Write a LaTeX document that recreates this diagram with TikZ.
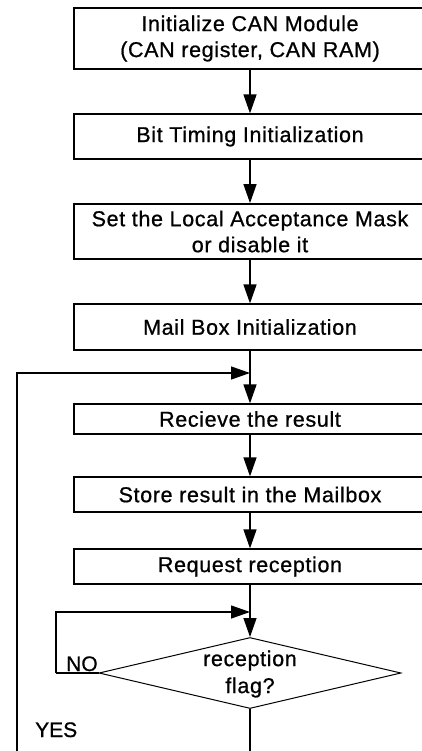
\documentclass[tikz,border=0pt]{standalone}
\usepackage{fontspec}
\setmainfont{Liberation Sans}
\newfontfamily\boxfont{Liberation Sans}[FakeBold=0.8, LetterSpace=3]
\newfontfamily\tagfont{Liberation Sans}[FakeBold=0.8]
\usetikzlibrary{shapes.geometric,arrows.meta}

\tikzset{
  stepbox/.style={draw, line width=1.2pt, minimum width=352pt, inner sep=0pt,
    align=center, font=\boxfont\fontsize{21.5pt}{26pt}\selectfont},
  flow/.style={line width=1.3pt, -{Triangle[length=19pt,width=13pt]}},
  plain/.style={line width=1.3pt},
  lbl/.style={font=\tagfont\fontsize{21pt}{26pt}\selectfont, inner sep=0pt}
}

\begin{document}
\begin{tikzpicture}[x=1pt,y=-1pt]
  \useasboundingbox (0,0) rectangle (422,751);
  \clip (0,0) rectangle (422,751);

  % process boxes (right edges run past the page)
  \node[stepbox, minimum height=61pt] (b1) at (250,38.5)
    {Initialize CAN Module\\(CAN register, CAN RAM)};
  \node[stepbox, minimum height=45pt] (b2) at (250,136.5) {Bit Timing Initialization};
  \node[stepbox, minimum height=55pt, line width=1.8pt] (b3) at (250,231.5)
    {Set the Local Acceptance Mask\\or disable it};
  \node[stepbox, minimum height=46pt] (b4) at (250,327) {Mail Box Initialization};
  \node[stepbox, minimum height=30pt] (b5) at (250,419) {Recieve the result};
  \node[stepbox, minimum height=35pt] (b6) at (250,494.5) {Store result in the Mailbox};
  \node[stepbox, minimum height=35pt] (b7) at (250,566.5) {Request reception};

  % decision
  \node[draw, diamond, line width=1pt, minimum width=302pt, minimum height=71pt,
    inner sep=0pt] (d) at (250,673) {};
  \node[inner sep=0pt, align=center, font=\boxfont\fontsize{21.5pt}{27pt}\selectfont] (dt)
    at (250,674) {reception\\flag?};

  % junctions and loop corners
  \coordinate (j1) at (250,373);
  \coordinate (j2) at (250,612);
  \coordinate (nc) at (56,673);
  \coordinate (yb1) at (250,760);
  \coordinate (yb2) at (17,760);

  % main flow
  \draw[flow] (b1.south) -- (b2.north);
  \draw[flow] (b2.south) -- (b3.north);
  \draw[flow] (b3.south) -- (b4.north);
  \draw[flow] (b4.south) -- (b5.north);
  \draw[flow] (b5.south) -- (b6.north);
  \draw[flow] (b6.south) -- (b7.north);
  \draw[flow] (b7.south) -- (d.north);

  % NO loop back above the decision
  \draw[plain] (d.west) -- (nc);
  \draw[flow] (nc) |- (j2);

  % YES loop back above the receive step
  \draw[plain] (d.south) -- (yb1);
  \draw[flow] (yb2) |- (j1);

  % branch labels
  \node[lbl, anchor=base west] (no) at (66,671) {NO};
  \node[lbl, anchor=base west] (yes) at (35,737) {YES};
\end{tikzpicture}
\end{document}
